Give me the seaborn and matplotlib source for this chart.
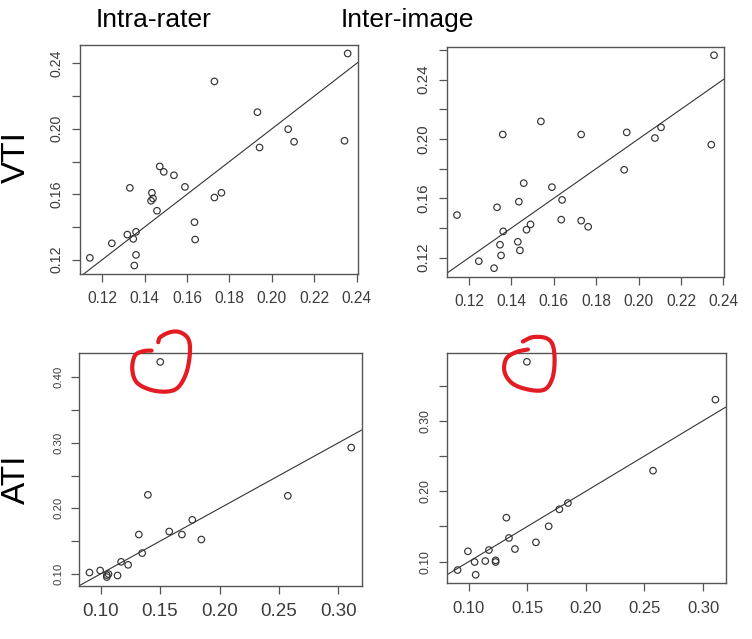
import numpy as np
import pandas as pd
import matplotlib
matplotlib.use("Agg")
import matplotlib.pyplot as plt
import seaborn as sns
from matplotlib.ticker import FixedLocator, FuncFormatter
from matplotlib.lines import Line2D
from matplotlib.transforms import IdentityTransform

# ---------------- data ----------------
vti_intra_x = [0.1141, 0.1245, 0.1318, 0.1346, 0.1359, 0.1359, 0.1351, 0.1330, 0.1434, 0.1439,
               0.1430, 0.1458, 0.1471, 0.1490, 0.1538, 0.1590, 0.1635, 0.1638, 0.1729, 0.1729,
               0.1762, 0.1932, 0.1942, 0.2077, 0.2105, 0.2343, 0.2358]
vti_intra_y = [0.1211, 0.1300, 0.1353, 0.1327, 0.1370, 0.1229, 0.1164, 0.1639, 0.1609, 0.1574,
               0.1560, 0.1499, 0.1770, 0.1737, 0.1716, 0.1645, 0.1429, 0.1323, 0.2290, 0.1580,
               0.1609, 0.2102, 0.1886, 0.1998, 0.1921, 0.1927, 0.2461]

vti_inter_x = [0.1143, 0.1246, 0.1318, 0.1332, 0.1346, 0.1351, 0.1361, 0.1359, 0.1430, 0.1440,
               0.1435, 0.1458, 0.1471, 0.1490, 0.1539, 0.1591, 0.1635, 0.1639, 0.1729, 0.1729,
               0.1762, 0.1932, 0.1944, 0.2077, 0.2106, 0.2343, 0.2356]
vti_inter_y = [0.1487, 0.1176, 0.1129, 0.1539, 0.1287, 0.1215, 0.1377, 0.2030, 0.1307, 0.1249,
               0.1577, 0.1702, 0.1388, 0.1424, 0.2118, 0.1675, 0.1456, 0.1589, 0.2030, 0.1449,
               0.1408, 0.1792, 0.2044, 0.2006, 0.2078, 0.1961, 0.2564]

ati_intra_x = [0.0907, 0.0997, 0.1053, 0.1053, 0.1067, 0.1143, 0.1173, 0.1232, 0.1322, 0.1350,
               0.1398, 0.1502, 0.1577, 0.1684, 0.1771, 0.1847, 0.2574, 0.3107]
ati_intra_y = [0.1022, 0.1053, 0.0982, 0.0952, 0.0998, 0.0976, 0.1185, 0.1139, 0.1601, 0.1318,
               0.2206, 0.4233, 0.1647, 0.1601, 0.1825, 0.1525, 0.2191, 0.2927]

ati_inter_x = [0.0906, 0.0994, 0.1051, 0.1060, 0.1142, 0.1173, 0.1230, 0.1230, 0.1322, 0.1344,
               0.1395, 0.1497, 0.1574, 0.1683, 0.1774, 0.1847, 0.2573, 0.3105]
ati_inter_y = [0.0882, 0.1148, 0.0996, 0.0815, 0.1010, 0.1166, 0.1020, 0.0996, 0.1625, 0.1337,
               0.1180, 0.3836, 0.1275, 0.1503, 0.1744, 0.1833, 0.2292, 0.3300]

vti_ticks = [0.12, 0.14, 0.16, 0.18, 0.20, 0.22, 0.24, 0.26]
vti_xlabels = ["0.12", "0.14", "0.16", "0.18", "0.20", "0.22", "0.24"]
vti_ylabels = ["0.12", "0.16", "0.20", "0.24"]
ati_ticks = [0.10, 0.15, 0.20, 0.25, 0.30, 0.35, 0.40]
ati_xlabels = ["0.10", "0.15", "0.20", "0.25", "0.30"]
ati_ylabels = ["0.10", "0.20", "0.30", "0.40"]

col_titles = ["Intra-rater", "Inter-image"]
row_titles = ["VTI", "ATI"]

# ---------------- style ----------------
sns.set_style("white")
plt.rcParams["font.family"] = ["Liberation Sans", "DejaVu Sans"]

W, H = 752, 639
fig = plt.figure(figsize=(W / 100, H / 100), dpi=100)
fig.patch.set_facecolor("white")

INK = "#333333"
LBL = "#3c3c3c"


def px_axes(left, top, right, bottom):
    return fig.add_axes([left / W, 1 - bottom / H, (right - left) / W, (bottom - top) / H])


panels = [
    dict(box=(79.5, 45, 358, 274), x=vti_intra_x, y=vti_intra_y, ticks=vti_ticks,
         xl=vti_xlabels, yl=vti_ylabels, xfs=11.2, yfs=10.2, outlier=False),
    dict(box=(446.7, 46.7, 724.3, 276.7), x=vti_inter_x, y=vti_inter_y, ticks=vti_ticks,
         xl=vti_xlabels, yl=vti_ylabels, xfs=11.2, yfs=11.0, outlier=False),
    dict(box=(79, 353.3, 361.7, 585.7), x=ati_intra_x, y=ati_intra_y, ticks=ati_ticks,
         xl=ati_xlabels, yl=ati_ylabels, xfs=13.5, yfs=8.2, outlier=True,
         red=[(-2, -19.7), (0, -24.7), (9.7, -29.7), (19.7, -29.7), (28, -23), (29.7, -9.7),
              (26.3, 10.3), (18, 25.3), (6.3, 29.7), (-10.3, 27.7), (-23.7, 20.3), (-28, 7),
              (-25.3, -6.3), (-17, -10.7), (-8.7, -11.3)]),
    dict(box=(447.3, 353.3, 725.7, 583.3), x=ati_inter_x, y=ati_inter_y, ticks=ati_ticks,
         xl=ati_xlabels, yl=ati_ylabels, xfs=12.0, yfs=8.7, outlier=True,
         red=[(-4, -20.3), (6, -24.7), (19.3, -23.7), (26, -16.3), (27.7, 0.3), (25.3, 17),
              (17.7, 27.7), (2.7, 28), (-14, 22), (-22.3, 10.3), (-20.7, -3), (-10.7, -9.7),
              (1, -12.3)]),
]


def catmull(pts, n=12):
    pts = np.asarray(pts, float)
    out = []
    for i in range(len(pts) - 1):
        p0 = pts[max(i - 1, 0)]
        p1 = pts[i]
        p2 = pts[i + 1]
        p3 = pts[min(i + 2, len(pts) - 1)]
        for t in np.linspace(0, 1, n, endpoint=False):
            t2, t3 = t * t, t * t * t
            out.append(0.5 * ((2 * p1) + (-p0 + p2) * t + (2 * p0 - 5 * p1 + 4 * p2 - p3) * t2
                              + (-p0 + 3 * p1 - 3 * p2 + p3) * t3))
    out.append(pts[-1])
    return np.array(out)


for p in panels:
    ax = px_axes(*p["box"])
    df = pd.DataFrame({"x": p["x"], "y": p["y"]})
    sns.scatterplot(data=df, x="x", y="y", ax=ax, s=22, marker="o",
                    facecolors="none", edgecolor=INK, linewidth=0.85, legend=False)
    xs, ys = np.array(p["x"]), np.array(p["y"])
    rx, ry = xs.max() - xs.min(), ys.max() - ys.min()
    ax.set_xlim(xs.min() - 0.04 * rx, xs.max() + 0.04 * rx)
    ax.set_ylim(ys.min() - 0.04 * ry, ys.max() + 0.04 * ry)
    ax.axline((0, 0), slope=1, color=INK, lw=0.8)

    ax.xaxis.set_major_locator(FixedLocator(p["ticks"]))
    ax.yaxis.set_major_locator(FixedLocator(p["ticks"]))
    xl, yl = set(p["xl"]), set(p["yl"])
    ax.xaxis.set_major_formatter(FuncFormatter(lambda v, pos, s=xl: f"{v:.2f}" if f"{v:.2f}" in s else ""))
    ax.yaxis.set_major_formatter(FuncFormatter(lambda v, pos, s=yl: f"{v:.2f}" if f"{v:.2f}" in s else ""))
    ax.set_xlabel("")
    ax.set_ylabel("")
    ax.tick_params(axis="both", direction="out", length=5.5, width=0.9, color="#555555",
                   left=True, bottom=True, top=False, right=False)
    ax.tick_params(axis="x", labelsize=p["xfs"], labelcolor=LBL, pad=7)
    ax.tick_params(axis="y", labelsize=p["yfs"], labelcolor=LBL, pad=6, labelrotation=90)
    for lab in ax.get_yticklabels():
        lab.set_va("center")
    for sp in ax.spines.values():
        sp.set_visible(True)
        sp.set_color("#555555")
        sp.set_linewidth(1.0)
    ax.set_facecolor("white")

    if p["outlier"]:
        i = int(np.argmax(ys))
        cx, cy = ax.transData.transform((xs[i], ys[i]))
        path = catmull(p["red"])
        line = Line2D(cx + path[:, 0], cy - path[:, 1], transform=IdentityTransform(),
                      color="#e31b23", lw=3.0, solid_capstyle="round", solid_joinstyle="round")
        fig.add_artist(line)

# column titles
fig.text(153.5 / W, 1 - 27 / H, col_titles[0], ha="center", va="baseline", fontsize=19,
         color="black")
fig.text(407.5 / W, 1 - 27 / H, col_titles[1], ha="center", va="baseline", fontsize=19,
         color="black")
# row titles
fig.text(16 / W, 1 - 157 / H, row_titles[0], ha="center", va="center", rotation=90,
         fontsize=24, color="black")
fig.text(16 / W, 1 - 479 / H, row_titles[1], ha="center", va="center", rotation=90,
         fontsize=24, color="black")

fig.savefig("out.png", dpi=100, facecolor="white")
